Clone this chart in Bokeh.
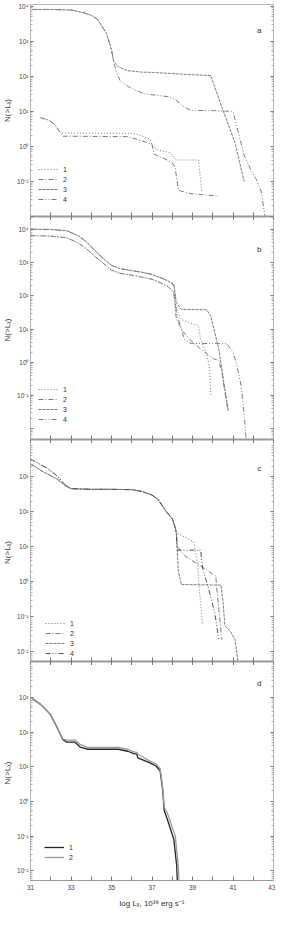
from bokeh.plotting import figure
from bokeh.layouts import column
from bokeh.models import FixedTicker, LogAxis, Legend, LegendItem, Label, Range1d
from bokeh.core.properties import value
from bokeh.embed import file_html
from bokeh.resources import INLINE

# ---------------- data ----------------
x_ticks = [31, 32, 33, 34, 35, 36, 37, 38, 39, 40, 41, 42, 43]
x_tick_labels = ["31", "", "33", "", "35", "", "37", "", "39", "", "41", "", "43"]
y_ticks = [0.01, 0.1, 1.0, 10.0, 100.0, 1000.0, 10000.0]
y_tick_labels = ["10\u207b\u00b2", "10\u207b\u00b9", "10\u2070", "10\u00b9", "10\u00b2", "10\u00b3", "10\u2074"]
y_minor = [m * d for d in [0.001, 0.01, 0.1, 1.0, 10.0, 100.0, 1000.0, 10000.0] for m in range(2, 10)]

panel_names = ["a", "b", "c", "d"]
legend_names_4 = ["1", "2", "3", "4"]
legend_names_2 = ["1", "2"]

# panel a
a1_x = [31.5, 31.9, 32.2, 32.4, 32.6, 33.0, 36.0, 36.4, 36.9, 37.05, 37.3, 37.9, 38.2, 39.3, 39.35, 39.45]
a1_y = [6.6, 5.6, 4.2, 2.8, 2.4, 2.4, 2.35, 2.1, 1.6, 1.0, 0.8, 0.66, 0.41, 0.41, 0.2, 0.054]
a2_x = [31.5, 31.9, 32.2, 32.4, 32.6, 33.0, 35.8, 36.4, 37.0, 37.1, 37.6, 38.0, 38.15, 38.3, 38.9, 40.3]
a2_y = [6.6, 5.6, 4.2, 2.8, 1.95, 1.95, 1.9, 1.5, 1.15, 0.6, 0.45, 0.34, 0.24, 0.056, 0.045, 0.038]
a3_x = [31.0, 32.0, 33.0, 33.6, 34.0, 34.3, 34.75, 35.0, 35.1, 35.35, 35.8, 36.5, 37.07, 38.5, 39.9, 40.45, 41.1, 41.55]
a3_y = [8100, 8100, 7800, 6600, 5500, 4300, 1700, 575, 270, 186, 145, 132, 129, 115, 105, 13.2, 1.26, 0.1]
a4_x = [31.0, 32.0, 33.0, 33.6, 34.0, 34.3, 34.75, 35.0, 35.1, 35.25, 35.45, 35.8, 36.15, 36.6, 37.2, 37.85,
        38.2, 38.45, 38.9, 40.0, 41.0, 41.55, 41.9, 42.15, 42.4, 42.57]
a4_y = [8100, 8100, 7800, 6600, 5500, 4300, 1700, 575, 270, 126, 71, 52, 41, 32, 29, 26,
        21, 15, 10.7, 10.5, 10.0, 0.56, 0.2, 0.115, 0.05, 0.0105]

# panel b
b_base_hi_x = [31.0, 32.0, 32.8, 33.4, 33.8, 34.2, 34.6, 35.0, 35.4, 36.0, 36.6, 37.0, 37.4, 37.8, 38.08]
b_base_hi_y = [10200, 10000, 9100, 6300, 4000, 2240, 1320, 830, 660, 575, 500, 440, 355, 280, 214]
b_base_lo_x = [31.0, 32.0, 32.8, 33.4, 33.8, 34.2, 34.6, 35.0, 35.4, 36.0, 36.6, 37.0, 37.4, 37.8, 38.08]
b_base_lo_y = [6500, 6300, 5600, 3800, 2500, 1500, 950, 600, 480, 420, 355, 316, 250, 190, 126]
b1_x = [38.2, 38.45, 38.8, 39.3, 39.4, 39.7, 39.85, 39.9]
b1_y = [40, 19.5, 15.8, 12.6, 4.9, 1.74, 0.63, 0.1]
b2_x = [38.2, 38.5, 39.0, 39.5, 40.05, 40.3, 40.45, 40.6, 40.75]
b2_y = [20, 8.9, 4.0, 2.24, 1.26, 1.12, 0.5, 0.126, 0.035]
b3_x = [38.2, 38.45, 39.7, 39.9, 40.3, 40.6, 40.77]
b3_y = [63, 39, 38, 25, 2.45, 0.15, 0.035]
b4_x = [38.2, 38.45, 38.6, 38.9, 40.7, 41.0, 41.15, 41.4, 41.55, 41.65]
b4_y = [32, 10, 4.9, 3.7, 3.6, 2.0, 1.0, 0.2, 0.025, 0.005]

# panel c
c_start_hi_x = [31.0, 31.8, 32.3, 32.7]
c_start_hi_y = [3200, 1780, 1070, 600]
c_start_lo_x = [31.0, 31.6, 32.3, 32.7]
c_start_lo_y = [2350, 1410, 870, 560]
c_mid_x = [33.0, 34.0, 35.0, 36.0, 36.5, 37.0, 37.3, 37.67, 38.0, 38.15, 38.2]
c_mid_y = [457, 437, 437, 427, 380, 300, 224, 107, 63, 35, 25]
c1_x = [39.05, 39.25, 39.35, 39.5]
c1_y = [14, 3.4, 0.5, 0.059]
c2_x = [38.25, 38.6, 39.4, 40.15, 40.2, 40.3, 40.45]
c2_y = [10, 5.6, 2.8, 1.45, 0.63, 0.16, 0.022]
c3_x = [38.3, 38.45, 40.4, 40.5, 40.6, 40.85, 41.1, 41.25]
c3_y = [2.0, 0.83, 0.8, 0.3, 0.055, 0.04, 0.022, 0.0052]
c4_x = [38.25, 39.4, 39.5, 39.85, 40.1, 40.3]
c4_y = [8.0, 8.0, 2.45, 0.48, 0.126, 0.022]

# panel d
d1_x = [31.0, 31.5, 31.97, 32.3, 32.6, 32.8, 33.2, 33.45, 33.8, 35.35, 35.8, 36.1, 36.25, 36.3, 36.9, 37.2,
        37.4, 37.53, 37.6, 37.76, 38.08, 38.22, 38.25]
d1_y = [1000, 630, 330, 141, 60, 51, 51, 37, 32, 32, 28, 24, 23, 18, 13, 10.5,
        7.6, 2.1, 0.56, 0.3, 0.08, 0.0138, 0.005]
d2_x = [31.0, 31.5, 31.97, 32.3, 32.6, 32.8, 33.2, 33.45, 33.8, 35.35, 35.8, 36.1, 36.25, 36.3, 36.9, 37.2,
        37.4, 37.53, 37.6, 37.76, 38.15, 38.3, 38.33]
d2_y = [1000, 630, 330, 141, 63, 59, 59, 44, 36, 36, 32, 27, 26, 23, 14.5, 12,
        8.9, 2.5, 0.68, 0.46, 0.1, 0.0138, 0.005]

# ---------------- styling ----------------
FONT = "Liberation Sans"
LINE = "#7c7c7c"
DASH = {"1": "1 2", "2": "5 2 1 2", "3": "3 1", "4": "5 2 1 2 1 2"}
FIG_W = 275
LEFT = 27


def hide_labels(ax):
    ax.major_label_text_font_size = "1px"
    ax.major_label_text_color = None
    ax.major_label_standoff = 0


def make_panel(height, ylo, yhi, border_top, border_bottom, hidden_labels, show_x_labels, outline):
    p = figure(width=FIG_W, height=height, x_range=Range1d(31, 43),
               y_range=Range1d(10 ** ylo, 10 ** yhi), y_axis_type="log",
               output_backend="svg", toolbar_location=None,
               min_border_left=LEFT, min_border_right=2, min_border_top=border_top,
               min_border_bottom=border_bottom)
    p.grid.visible = False
    p.outline_line_color = "#b5b5b5" if outline else None
    p.background_fill_color = "white"
    p.border_fill_color = "white"

    yt = FixedTicker(ticks=y_ticks, minor_ticks=y_minor)
    ya = p.yaxis[0]
    ya.ticker = yt
    ya.major_label_overrides = {t: (" " if lab in hidden_labels else lab) for t, lab in zip(y_ticks, y_tick_labels)}
    ya.axis_label = "N(>L\u2093)"
    ya.axis_label_text_font = FONT
    ya.axis_label_text_font_style = "normal"
    ya.axis_label_text_font_size = "8px"
    ya.axis_label_text_color = "#333333"
    ya.axis_label_standoff = 2
    ya.major_label_text_font = FONT
    ya.major_label_text_font_size = "6.5px"
    ya.major_label_text_color = "#444444"
    ya.major_label_standoff = 2
    ya.major_tick_in = 3
    ya.major_tick_out = 0
    ya.minor_tick_in = 2
    ya.minor_tick_out = 0
    ya.axis_line_color = "#b5b5b5"
    ya.major_tick_line_color = "#777777"
    ya.minor_tick_line_color = "#b0b0b0"

    ra = LogAxis(ticker=FixedTicker(ticks=y_ticks, minor_ticks=y_minor))
    hide_labels(ra)
    ra.major_tick_in = 3
    ra.major_tick_out = 0
    ra.minor_tick_in = 2
    ra.minor_tick_out = 0
    ra.axis_line_color = "#b5b5b5"
    ra.major_tick_line_color = "#777777"
    ra.minor_tick_line_color = "#b0b0b0"
    p.add_layout(ra, "right")

    xa = p.xaxis[0]
    xa.ticker = FixedTicker(ticks=x_ticks, minor_ticks=[])
    xa.axis_line_color = "#9a9a9a"
    xa.axis_line_width = 2 if not show_x_labels else 1
    xa.major_tick_line_color = "#777777"
    xa.major_tick_in = 4
    if show_x_labels:
        xa.major_label_overrides = {t: (lab if lab else " ") for t, lab in zip(x_ticks, x_tick_labels)}
        xa.major_tick_out = 0
        xa.major_label_text_font = FONT
        xa.major_label_text_font_size = "6.5px"
        xa.major_label_text_color = "#444444"
        xa.major_label_standoff = 3
        xa.axis_label = "log L\u2093, 10\u00b3\u2078 erg s\u207b\u00b9"
        xa.axis_label_text_font = FONT
        xa.axis_label_text_font_style = "normal"
        xa.axis_label_text_font_size = "8px"
        xa.axis_label_text_color = "#333333"
        xa.axis_label_standoff = 5
    else:
        hide_labels(xa)
        xa.major_tick_out = 4
    return p


def add_legend(p, renderers, names, loc):
    items = [LegendItem(label=n, renderers=[r]) for n, r in zip(names, renderers)]
    lg = Legend(items=items, location=loc, border_line_color=None, background_fill_alpha=0,
                padding=0, margin=0, spacing=0, label_height=10, glyph_height=10, glyph_width=20,
                label_standoff=5, label_text_font=FONT, label_text_font_size="7px",
                label_text_color="#333333")
    p.add_layout(lg)


def panel_label(p, text, x, y):
    p.add_layout(Label(x=x, y=y, text=text, text_font=FONT, text_font_size="8px",
                       text_color="#333333", text_align="center", text_baseline="middle"))


# ---------------- panel a ----------------
pa = make_panel(220, -2.0, 4.05, 4, 4, {"10\u207b\u00b2"}, False, True)
ra1 = pa.line(a1_x, a1_y, line_color=LINE, line_dash=DASH["1"], line_width=1)
ra2 = pa.line(a2_x, a2_y, line_color=LINE, line_dash=DASH["2"], line_width=1)
ra3 = pa.line(a3_x, a3_y, line_color=LINE, line_dash=DASH["3"], line_width=1)
ra4 = pa.line(a4_x, a4_y, line_color=LINE, line_dash=DASH["4"], line_width=1)
add_legend(pa, [ra1, ra2, ra3, ra4], legend_names_4, (8, 12))
panel_label(pa, panel_names[0], 42.3, 2000)

# ---------------- panel b ----------------
pb = make_panel(223, -2.33, 4.27, 0, 4, {"10\u207b\u00b2"}, False, False)
rb1 = pb.line(b_base_lo_x + b1_x, b_base_lo_y + b1_y, line_color=LINE, line_dash=DASH["1"], line_width=1)
rb2 = pb.line(b_base_lo_x + b2_x, b_base_lo_y + b2_y, line_color=LINE, line_dash=DASH["2"], line_width=1)
rb3 = pb.line(b_base_hi_x + b3_x, b_base_hi_y + b3_y, line_color=LINE, line_dash=DASH["3"], line_width=1)
rb4 = pb.line(b_base_hi_x + b4_x, b_base_hi_y + b4_y, line_color=LINE, line_dash=DASH["4"], line_width=1)
add_legend(pb, [rb1, rb2, rb3, rb4], legend_names_4, (8, 15))
panel_label(pb, panel_names[1], 42.3, 2500)

# ---------------- panel c ----------------
pc = make_panel(222, -2.28, 3.95, 0, 4, {"10\u2074"}, False, False)
rc1 = pc.line(c_start_hi_x + c_mid_x + c1_x, c_start_hi_y + c_mid_y + c1_y, line_color=LINE, line_dash=DASH["1"], line_width=1)
rc2 = pc.line(c_start_lo_x + c_mid_x + c2_x, c_start_lo_y + c_mid_y + c2_y, line_color=LINE, line_dash=DASH["2"], line_width=1)
rc3 = pc.line(c_start_lo_x + c_mid_x + c3_x, c_start_lo_y + c_mid_y + c3_y, line_color=LINE, line_dash=DASH["3"], line_width=1)
rc4 = pc.line(c_start_hi_x + c_mid_x + c4_x, c_start_hi_y + c_mid_y + c4_y, line_color="#505050", line_dash=DASH["4"], line_width=1)
add_legend(pc, [rc1, rc2, rc3, rc4], legend_names_4, (15, 3))
panel_label(pc, panel_names[2], 42.3, 1700)

# ---------------- panel d ----------------
pd_ = make_panel(245, -2.28, 3.92, 0, 26, {"10\u2074"}, True, False)
rd1 = pd_.line(d1_x, d1_y, line_color="#222222", line_width=1.3)
rd2 = pd_.line(d2_x, d2_y, line_color="#9a9a9a", line_width=1.3)
add_legend(pd_, [rd1, rd2], legend_names_2, (14, 18))
panel_label(pd_, panel_names[3], 42.3, 2600)

layout = column(pa, pb, pc, pd_, spacing=0)
open("out.html", "w").write(file_html(layout, INLINE))
